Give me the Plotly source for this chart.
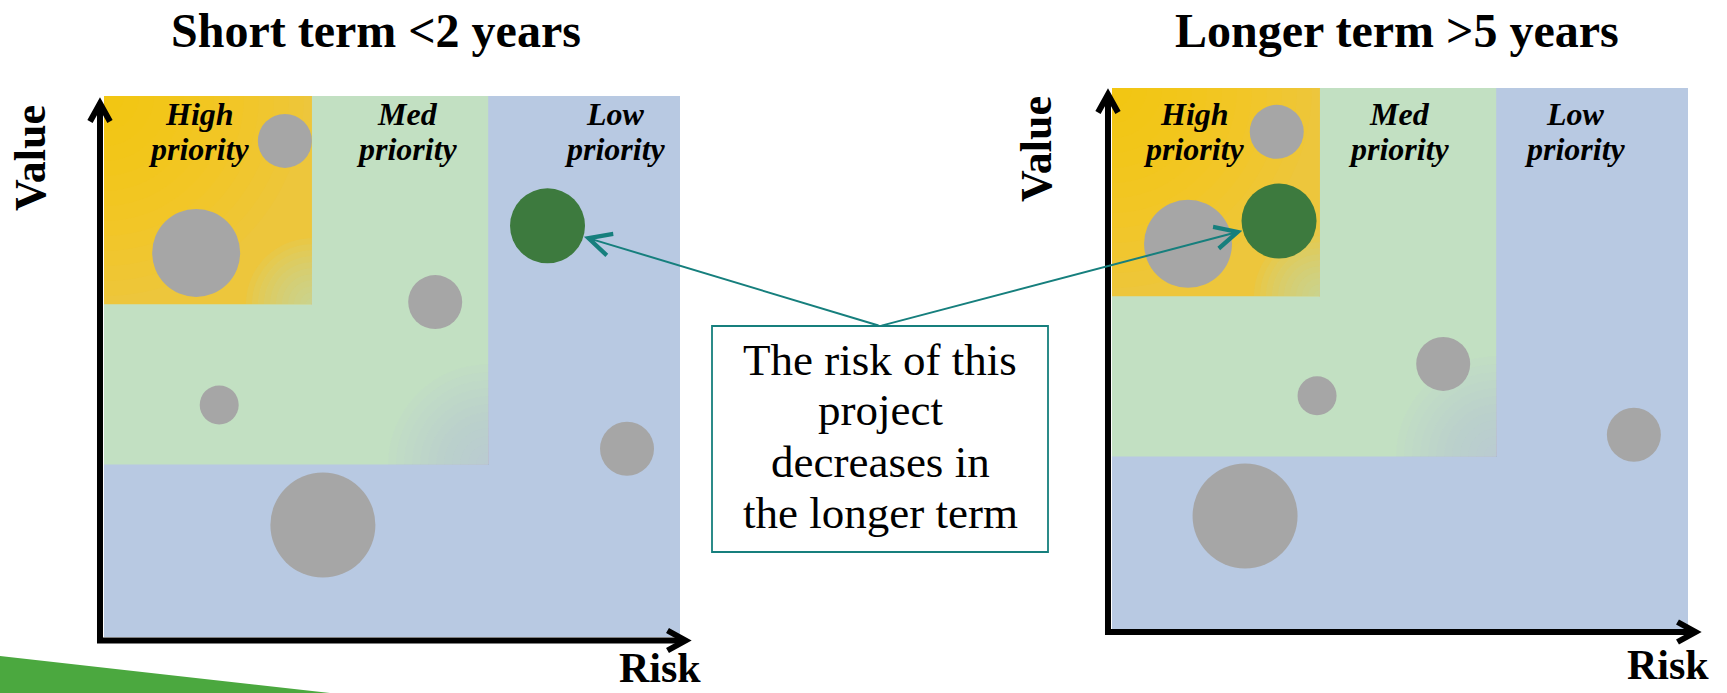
import math
import plotly.graph_objects as go

W, H = 1727, 693

# ---------------- data ----------------
projects = ["P1", "P2", "P3", "P4", "P5", "P6", "P7"]
project_size = [5.4, 8.8, 5.4, 3.9, 10.5, 5.4, 7.5]
short_term_risk = [3.14, 1.60, 5.75, 2.00, 3.80, 9.08, 7.70]
short_term_value = [9.17, 7.10, 6.19, 4.29, 2.07, 3.48, 7.60]
longer_term_risk = [2.86, 1.32, 5.75, 3.56, 2.31, 9.06, 2.90]
longer_term_value = [9.19, 7.12, 4.90, 4.31, 2.09, 3.59, 7.54]
highlight_project = "P7"

zone_top_words = ["High", "Med", "Low"]
zone_bottom_word = "priority"
zone_risk_max = [3.61, 6.67, 10.0]
zone_value_min = [6.15, 3.19, 0.0]

panel_titles = ["Short term <2 years", "Longer term >5 years"]
x_label = "Risk"
y_label = "Value"
callout_lines = ["The risk of this", "project", "decreases in", "the longer term"]

# ---------------- styling / layout helpers ----------------
SERIF = "Liberation Serif"
GRAY = "#A6A6A6"
GREEN_DOT = "#3D7A3E"
TEAL = "#167F7D"
C_HIGH = "#EDC63C"
C_MED = "#C2E0C2"
C_LOW = "#B8C9E2"

# plot-area pixel boxes (left, top, right, bottom)
boxes = [(104, 96, 680, 637), (1112, 88, 1688, 629)]


def fx(p):
    return p / W


def fy(p):
    return 1 - p / H


def px_to_data(i, x, y):
    l, t, r, b = boxes[i]
    return (x - l) / (r - l) * 10, (b - y) / (b - t) * 10


def data_to_px(i, x, y):
    l, t, r, b = boxes[i]
    return l + x / 10 * (r - l), b - y / 10 * (b - t)


def ppath(points, close=True):
    s = "M " + " L ".join(f"{fx(x):.5f},{fy(y):.5f}" for x, y in points)
    return s + (" Z" if close else "")


def dpath(i, points):
    pts = [px_to_data(i, x, y) for x, y in points]
    return "M " + " L ".join(f"{x:.4f},{y:.4f}" for x, y in pts) + " Z"


def quarter_pts(cx, cy, r, qx, qy, n=30):
    pts = [(cx, cy)]
    for k in range(n + 1):
        a = k / n * math.pi / 2
        pts.append((cx + qx * r * math.cos(a), cy + qy * r * math.sin(a)))
    return pts


fig = go.Figure()
shapes = []
annotations = []

panels = [(short_term_risk, short_term_value), (longer_term_risk, longer_term_value)]
axis_ids = [("x", "y"), ("x2", "y2")]

for i, (risks, values) in enumerate(panels):
    xa, ya = axis_ids[i]
    # priority zones (drawn from largest to smallest)
    zone_colors = [C_HIGH, C_MED, C_LOW]
    for z in [2, 1, 0]:
        shapes.append(dict(type="rect", xref=xa, yref=ya, x0=0, x1=zone_risk_max[z],
                           y0=zone_value_min[z], y1=10, fillcolor=zone_colors[z],
                           line=dict(width=0), layer="below"))
    # soft gradient decorations
    l, t, _, _ = boxes[i]
    hx, hy = data_to_px(i, zone_risk_max[0], zone_value_min[0])
    mx, my = data_to_px(i, zone_risk_max[1], zone_value_min[1])
    for r in range(200, 0, -15):
        shapes.append(dict(type="path", xref=xa, yref=ya, path=dpath(i, quarter_pts(l, t, r, 1, 1)),
                           fillcolor="#FFC000", opacity=0.07, line=dict(width=0), layer="below"))
    for r in range(66, 0, -6):
        shapes.append(dict(type="path", xref=xa, yref=ya, path=dpath(i, quarter_pts(hx, hy, r, -1, -1)),
                           fillcolor=C_MED, opacity=0.09, line=dict(width=0), layer="below"))
    for r in range(100, 0, -8):
        shapes.append(dict(type="path", xref=xa, yref=ya, path=dpath(i, quarter_pts(mx, my, r, -1, -1)),
                           fillcolor=C_LOW, opacity=0.085, line=dict(width=0), layer="below"))

    colors = [GREEN_DOT if p == highlight_project else GRAY for p in projects]
    fig.add_trace(go.Scatter(
        x=risks, y=values, mode="markers", xaxis=xa, yaxis=ya,
        text=projects, hoverinfo="text",
        marker=dict(size=project_size, sizemode="diameter", sizeref=0.1,
                    color=colors, opacity=1, line=dict(width=0)),
        showlegend=False))

# axis arrows (pixel geometry)
def axis_arrow(start, tip, d):
    dx, dy = d
    nx, ny = -dy, dx
    ptip = (tip[0] - 6.5 * dx, tip[1] - 6.5 * dy)
    shapes.append(dict(type="path", xref="paper", yref="paper",
                       path=ppath([start, (ptip[0] - 2 * dx, ptip[1] - 2 * dy)], close=False),
                       line=dict(color="black", width=6), layer="above"))
    a1 = (ptip[0] - 18 * dx + 10 * nx, ptip[1] - 18 * dy + 10 * ny)
    a2 = (ptip[0] - 18 * dx - 10 * nx, ptip[1] - 18 * dy - 10 * ny)
    shapes.append(dict(type="path", xref="paper", yref="paper",
                       path=ppath([a1, ptip, a2], close=False),
                       line=dict(color="black", width=6), layer="above"))

axis_arrow((100, 643), (100, 97), (0, -1))
axis_arrow((97, 640.5), (692, 640.5), (1, 0))
axis_arrow((1108, 635), (1108, 88), (0, -1))
axis_arrow((1105, 632), (1702, 632), (1, 0))

# green swoosh decoration bottom-left
shapes.append(dict(type="path", xref="paper", yref="paper",
                   path=ppath([(0, 656), (160, 674), (330, 693), (0, 693)]),
                   fillcolor="#4BA83F", line=dict(width=0), layer="below"))

# callout box
bx0, by0, bx1, by1 = 712, 326, 1048, 552
shapes.append(dict(type="rect", xref="paper", yref="paper", x0=fx(bx0), x1=fx(bx1),
                   y0=fy(by1), y1=fy(by0), fillcolor="white",
                   line=dict(color=TEAL, width=1.8), layer="above"))
box_top_center = ((bx0 + bx1) / 2, by0)


def text(xp, yp, s, size, bold=False, italic=False, angle=0):
    annotations.append(dict(xref="paper", yref="paper", x=fx(xp), y=fy(yp), text=s,
                            showarrow=False, xanchor="center", yanchor="middle",
                            textangle=angle,
                            font=dict(family=SERIF, size=size, color="black",
                                      weight="bold" if bold else "normal",
                                      style="italic" if italic else "normal")))

# titles
text(376, 47 - 0.3375 * 48, panel_titles[0], 48, bold=True)
text(1397, 47 - 0.3375 * 48, panel_titles[1], 48, bold=True)
# axis labels
text(31, 158, y_label, 44, bold=True, angle=-90)
text(1037, 149, y_label, 44, bold=True, angle=-90)
text(660, 682 - 0.3375 * 42, x_label, 42, bold=True)
text(1668, 679 - 0.3375 * 42, x_label, 42, bold=True)
# zone labels
zone_label_x = [[199, 407, 615], [1194, 1399, 1575]]
for i in range(2):
    for z in range(3):
        text(zone_label_x[i][z], 125 - 0.3375 * 32, zone_top_words[z], 32, bold=True, italic=True)
        text(zone_label_x[i][z], 160 - 0.3375 * 32, zone_bottom_word, 32, bold=True, italic=True)
# callout text
for k, (line, base) in enumerate(zip(callout_lines, [375, 425, 477, 528])):
    text(box_top_center[0], base - 0.3375 * 45, line, 45)

# callout arrows pointing at the highlighted project in both panels
hi = projects.index(highlight_project)
for i, (risks, values) in enumerate(panels):
    xa, ya = axis_ids[i]
    tx, ty = px_to_data(i, *box_top_center)
    annotations.append(dict(x=risks[hi], y=values[hi], xref=xa, yref=ya,
                            ax=tx, ay=ty, axref=xa, ayref=ya, text="",
                            showarrow=True, arrowhead=5, arrowsize=2.2, arrowwidth=2,
                            arrowcolor=TEAL, standoff=project_size[hi] * 5 + 0.5))

layout_axes = {}
for i, (xa, ya) in enumerate(axis_ids):
    l, t, r, b = boxes[i]
    xk = "xaxis" if i == 0 else "xaxis2"
    yk = "yaxis" if i == 0 else "yaxis2"
    layout_axes[xk] = dict(domain=[fx(l), fx(r)], range=[0, 10], visible=False,
                           fixedrange=True, anchor=ya)
    layout_axes[yk] = dict(domain=[fy(b), fy(t)], range=[0, 10], visible=False,
                           fixedrange=True, anchor=xa)

fig.update_layout(width=W, height=H, margin=dict(l=0, r=0, t=0, b=0),
                  paper_bgcolor="white", plot_bgcolor="rgba(0,0,0,0)",
                  shapes=shapes, annotations=annotations, showlegend=False,
                  **layout_axes)

fig.write_html("out.html", config={"displayModeBar": False})
